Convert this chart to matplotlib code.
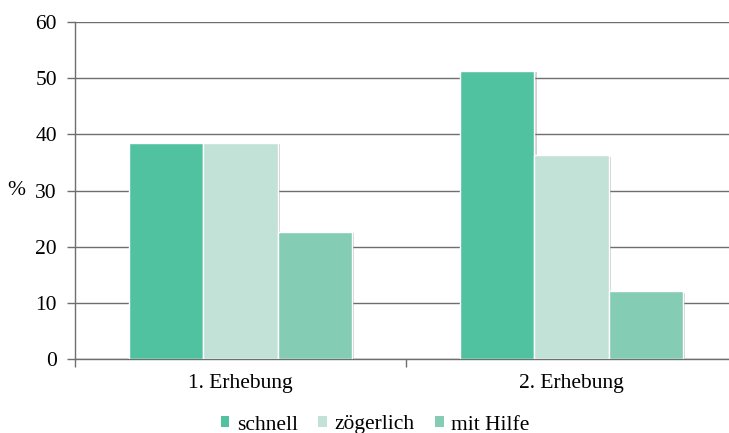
import matplotlib
matplotlib.use("Agg")
import matplotlib.pyplot as plt
import matplotlib.patheffects as pe
from matplotlib.patches import Patch
import numpy as np

plt.rcParams['font.family'] = ['Liberation Serif', 'DejaVu Serif']

categories = ["1. Erhebung", "2. Erhebung"]
series_names = ["schnell", "zögerlich", "mit Hilfe"]
schnell = [38.5, 51.4]
zoegerlich = [38.5, 36.3]
mit_hilfe = [22.6, 12.0]
colors = ["#50C2A0", "#C2E2D8", "#84CDB4"]

fig = plt.figure(figsize=(7.29, 4.33), dpi=100)
ax = fig.add_axes([75/729, (433-358.7)/433, (737-75)/729, (358.7-22.3)/433])

x = np.arange(len(categories))
width = 0.2236
shadow = [pe.SimplePatchShadow(offset=(1.5, -1), shadow_rgbFace="#808080", alpha=0.35), pe.Normal()]
for i, (vals, name) in enumerate(zip([schnell, zoegerlich, mit_hilfe], series_names)):
    bars = ax.bar(x + (i - 1) * width, vals, width, color=colors[i], edgecolor="white",
                  linewidth=1.0, label=name, zorder=3)
    for b in bars:
        b.set_path_effects(shadow)

ax.set_xlim(-0.5, 1.5)
ax.set_ylim(0, 60)
ax.set_yticks(range(0, 61, 10))
ax.yaxis.grid(True, color="#6e6e6e", linewidth=1.0, zorder=0)
ax.set_axisbelow(True)

ax.set_xticks(x)
ax.set_xticklabels(categories)
ax.set_xticks([-0.5, 0.5, 1.5], minor=True)
ax.tick_params(axis='x', which='major', length=0, labelsize=15.5, pad=11)
ax.tick_params(axis='x', which='minor', length=6, color="#6e6e6e", width=1)
ax.tick_params(axis='y', length=6, color="#6e6e6e", width=1, labelsize=15.5, pad=7)

for s in ["top", "right"]:
    ax.spines[s].set_visible(False)
for s in ["left", "bottom"]:
    ax.spines[s].set_color("#6e6e6e")
    ax.spines[s].set_linewidth(1.0)

ax.set_ylabel("%", rotation=0, fontsize=15.5, va="center", ha="center")
ax.yaxis.set_label_coords(-0.088, 0.5)

handles = [Patch(facecolor=c, edgecolor="none", label=n) for c, n in zip(colors, series_names)]
leg = ax.legend(handles=handles, loc="center", bbox_to_anchor=(375/729, 1 - 425/433),
                bbox_transform=fig.transFigure, ncol=3, frameon=False, fontsize=15.5,
                handlelength=0.4, handleheight=0.4, handletextpad=0.35, columnspacing=0.95,
                borderpad=0)

fig.savefig("out.png", dpi=100)
